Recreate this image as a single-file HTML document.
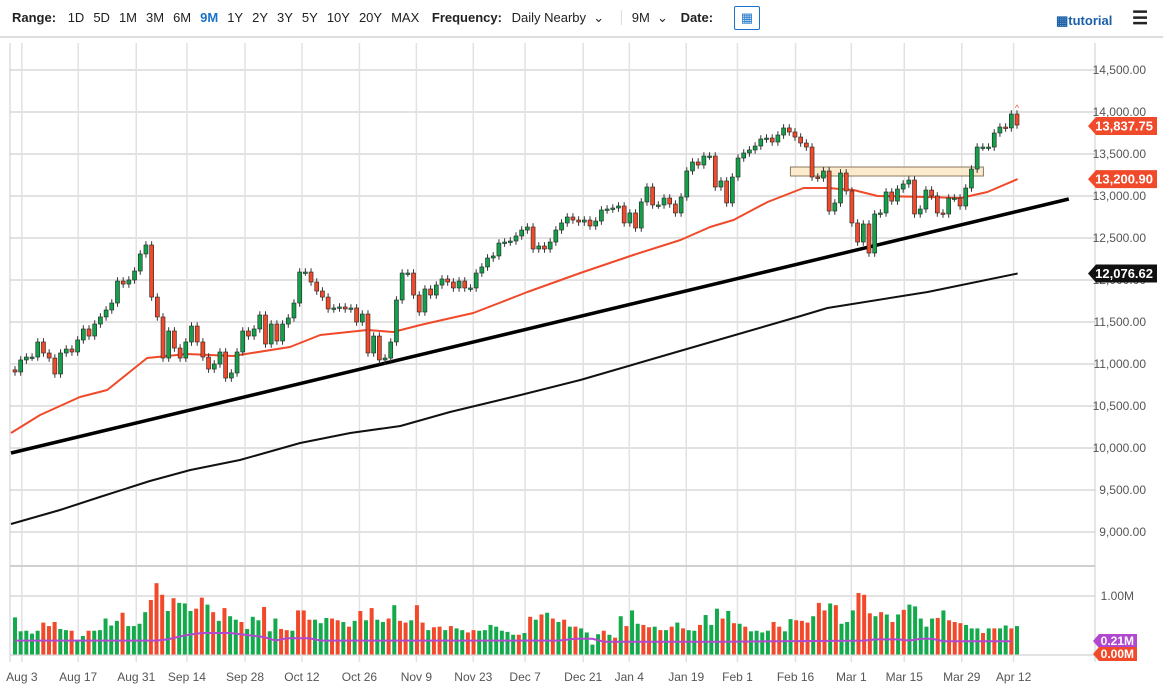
<!DOCTYPE html>
<html><head><meta charset="utf-8">
<style>
body{margin:0;background:#fff;font-family:"Liberation Sans",sans-serif;}
#wrap{position:relative;width:1163px;height:694px;overflow:hidden;background:#fff}
.tb{position:absolute;top:10px;font-size:13px;color:#222;white-space:nowrap}
.tb b{font-weight:bold}
.tb span{margin-right:9px}
</style></head>
<body>
<div id="wrap">
<div class="tb" style="left:12px">
<b>Range:</b>
<span style="margin-left:8px">1D</span><span>5D</span><span>1M</span><span>3M</span><span>6M</span><span style="color:#1a73c8;font-weight:bold">9M</span><span>1Y</span><span>2Y</span><span>3Y</span><span>5Y</span><span>10Y</span><span>20Y</span><span>MAX</span>
<b>Frequency:</b>
<span style="margin-left:6px">Daily Nearby &nbsp;⌄</span>
<span style="border-left:1px solid #ddd;padding-left:10px;margin-left:4px">9M &nbsp;⌄</span>
<b>Date:</b>
</div>
<div style="position:absolute;left:734px;top:6px;width:24px;height:22px;border:1px solid #1a73c8;border-radius:2px;font-size:13px;text-align:center;line-height:22px;color:#1a73c8">▦</div>
<div style="position:absolute;left:1056px;top:13px;font-size:13px;font-weight:bold;color:#1a5fa8">▦tutorial</div>
<div style="position:absolute;left:1132px;top:8px;font-size:18px;font-weight:bold;color:#222">☰</div>
<svg id="svg" width="1163" height="694" style="position:absolute;left:0;top:0"></svg>
</div>
<script>
const closes=[10905,11048,11083,11083,11262,11131,11071,10881,11131,11178,11143,11286,11417,11333,11476,11560,11643,11726,11988,11952,12000,12107,12310,12417,11797,11560,11071,11393,11190,11071,11262,11452,11262,11083,10940,11000,11143,10833,10893,11143,11393,11333,11417,11583,11238,11476,11274,11476,11548,11726,12095,12095,11976,11869,11797,11655,11667,11679,11655,11667,11500,11595,11131,11333,11048,11071,11262,11762,12083,12083,11821,
11619,11893,11821,11940,12012,11976,11905,11988,11905,11905,12083,12155,12262,12286,12440,12452,12464,12524,12595,12631,12369,12405,12369,12452,12595,12679,12750,12714,12690,12714,12643,12702,12833,12845,12857,12881,12679,12798,12619,12929,13107,12893,12893,12976,12905,12798,12988,13298,13405,13369,13476,13476,13107,13179,12917,13226,13452,13512,13548,13595,13679,13690,13643,13726,13810,13762,13702,
13631,13583,13226,13214,13298,12821,12917,13274,13060,12679,12452,12667,12321,12786,12798,13048,12940,13083,13143,13190,12786,12845,13071,13000,12798,12786,12976,12976,12881,13095,13321,13583,13583,13583,13750,13821,13810,13976,13845];
const firstOpen=10930;
const volumes=[.64,.40,.41,.36,.41,.55,.49,.56,.44,.42,.41,.23,.32,.41,.41,.42,.62,.50,.58,.72,.49,.49,.53,.73,.94,1.23,1.03,.75,.97,.89,.88,.75,.79,.98,.86,.73,.58,.80,.66,.60,.56,.44,.65,.59,.82,.40,.62,.44,.42,.41,.76,.76,.60,.60,.54,.63,.62,.59,.56,.48,.58,.75,.59,.80,.60,.56,.62,.85,.58,.55,.59,.85,.55,.42,.47,.48,.42,.49,.45,.42,.38,.42,.41,.42,.51,.48,.41,.39,.34,.34,.37,.65,.60,.69,.72,.62,.56,.60,.48,.48,.45,.38,.17,.35,.41,.34,.29,.66,.49,.76,.53,.51,.47,.48,.42,.42,.48,.55,.45,.42,.41,.51,.68,.51,.79,.62,.75,.54,.53,.48,.40,.41,.38,.41,.56,.48,.40,.61,.59,.58,.55,.66,.89,.76,.88,.85,.53,.56,.76,1.06,1.03,.71,.66,.73,.69,.56,.69,.77,.86,.83,.62,.48,.62,.63,.76,.59,.56,.54,.51,.45,.45,.37,.45,.45,.45,.50,.45,.49];
const volColors="gggggrrrggrggrgggggrggggrrrgrgggrrgrgrggrgggrggrrgrrrgggrrgrgrgrggrgrrgrrgrrgrggrrgggggggrgrgrgrgrgrggggrgrgrggrrgrgrgrggrgggrgrgrggggrrggrrrgrrgrgggrrrgrgrgrgggggrgrrrgggrgrggrg";
const ma50Idx=[-0.7,4.4,11.4,16.2,23.2,30.2,38.3,48.3,53.6,61.9,66.4,71.2,73.5,80.5,90,99.3,108.6,116.9,122.1,126.2,132.2,138.5,142.7,147.3,151.5,160.3,166.1,170.8,176.1];
const ma50Val=[10179,10393,10607,10690,11071,11119,11095,11202,11345,11405,11381,11464,11500,11607,11857,12083,12298,12476,12631,12714,12929,13095,13095,13071,13000,12988,12976,13048,13201];
const ma200Idx=[-0.7,7.9,14.9,23.7,30.8,39.5,50.1,58.9,67.7,76.4,88.8,99.3,117.4,138,142.7,160.3,176.1];
const ma200Val=[9095,9262,9417,9607,9738,9857,10060,10179,10262,10429,10631,10810,11167,11571,11667,11857,12077];
const trendIdx=[-0.7,185.1];
const trendVal=[9940,12964];
const volMaIdx=[0,25,27,30,33,38,44,46,48,52,54,96,99,102,104,125,150,152,156,158,160,162,164,176];
const volMaVal=[.24,.24,.26,.33,.37,.37,.30,.24,.28,.28,.24,.24,.27,.27,.22,.22,.24,.26,.26,.24,.27,.27,.23,.23];
const dateLabels=["Aug 3","Aug 17","Aug 31","Sep 14","Sep 28","Oct 12","Oct 26","Nov 9","Nov 23","Dec 7","Dec 21","Jan 4","Jan 19","Feb 1","Feb 16","Mar 1","Mar 15","Mar 29","Apr 12"];
const dateIdx=[1.2,11.1,21.3,30.2,40.4,50.4,60.5,70.5,80.5,89.6,99.8,107.9,117.9,126.9,137.1,146.9,156.2,166.3,175.4];
const priceTicks=[14500,14000,13500,13000,12500,12000,11500,11000,10500,10000,9500,9000];
const boxTop=13345, boxBottom=13238, boxStartIdx=136.2, boxEndIdx=170.1;

const NS="http://www.w3.org/2000/svg";
const svg=document.getElementById('svg');
const N=closes.length;
const step=1002/(N-1);
const X=i=>15+i*step;
const Y=p=>70+(14500-p)*0.084;
const VY=v=>654.5-v*58;
function mk(tag,attrs,parent){const e=document.createElementNS(NS,tag);for(const k in attrs)e.setAttribute(k,attrs[k]);(parent||svg).appendChild(e);return e;}
const gridG=mk('g',{});


priceTicks.forEach(p=>{const l=mk('line',{x1:10,x2:1095,y1:Y(p),y2:Y(p),stroke:'#e2e2e2','stroke-width':2},gridG);

});
dateIdx.forEach(d=>{const l=mk('line',{x1:X(d),x2:X(d),y1:43,y2:662,stroke:'#e2e2e2','stroke-width':1.5},gridG);

});
[[596,'#e2e2e2'],[655,'#e2e2e2'],[566,'#d0d0d0']].forEach(([y,c])=>{const l=mk('line',{x1:10,x2:1095,y1:y,y2:y,stroke:c,'stroke-width':2},gridG);

});
const fr=mk('line',{x1:10,x2:10,y1:43,y2:662,stroke:'#ccc'});


const fr2=mk('line',{x1:1095,x2:1095,y1:43,y2:662,stroke:'#ccc'});


const topDivider=mk('line',{x1:0,x2:1163,y1:37,y2:37,stroke:'#ddd','stroke-width':2});


priceTicks.forEach(p=>{const t=mk('text',{x:1146,y:Y(p)+4,'text-anchor':'end','font-size':12,fill:'#555','font-family':'Liberation Sans, sans-serif'});t.textContent=p.toLocaleString('en-US',{minimumFractionDigits:2});

});
const vl=mk('text',{x:1134,y:600,'text-anchor':'end','font-size':12,fill:'#555','font-family':'Liberation Sans, sans-serif'});vl.textContent='1.00M';


dateLabels.forEach((d,i)=>{const t=mk('text',{x:X(dateIdx[i]),y:681,'text-anchor':'middle','font-size':12,fill:'#555','font-family':'Liberation Sans, sans-serif'});t.textContent=d;

});
const bx=mk('rect',{x:X(boxStartIdx),y:Y(boxTop),width:X(boxEndIdx)-X(boxStartIdx),height:Y(boxBottom)-Y(boxTop),fill:'#fde8c4','fill-opacity':0.85,stroke:'#8a7a60','stroke-width':1});


function poly(idx,val,color,w,name){const pts=idx.map((d,i)=>X(d).toFixed(1)+','+Y(val[i]).toFixed(1)).join(' ');const p=mk('polyline',{points:pts,fill:'none',stroke:color,'stroke-width':w,'stroke-linejoin':'round'});

}
poly(ma200Idx,ma200Val,'#111',2,'ma-200-line');
poly(trendIdx,trendVal,'#000',3.5,'uptrend-line');
poly(ma50Idx,ma50Val,'#f04a2a',2,'ma-50-line');
const cg=mk('g',{});


for(let i=0;i<N;i++){
 const o=i?closes[i-1]:firstOpen,c=closes[i];
 const hi=Math.max(o,c)+45,lo=Math.min(o,c)-45;
 const x=X(i);
 const w=mk('line',{x1:x,x2:x,y1:Y(hi),y2:Y(lo),stroke:'#333','stroke-width':1},cg);
 
 
 const up=c>=o;const yt=Y(Math.max(o,c)),yb=Y(Math.min(o,c));
 const b=mk('rect',{x:x-2,y:yt,width:4,height:Math.max(1.5,yb-yt),fill:up?'#14a04b':'#f04a2a',stroke:'#222','stroke-width':0.6},cg);
 
 
}
const mark=mk('text',{x:X(N-1),y:Y(14000)-1,'text-anchor':'middle','font-size':9,fill:'#f04a2a'});mark.textContent='^';


const vg=mk('g',{});


const vstep=1002/(volumes.length-1);
volumes.forEach((v,i)=>{const x=15+i*vstep;const r=mk('rect',{x:x-2,y:VY(v),width:4,height:654.5-VY(v),fill:volColors[i]==='r'?'#f2492b':'#13aa4c'},vg);

});
const vpts=volMaIdx.map((d,i)=>(15+d*vstep).toFixed(1)+','+VY(volMaVal[i]).toFixed(1)).join(' ');
const vm=mk('polyline',{points:vpts,fill:'none',stroke:'#b048d0','stroke-width':2});


function tag(y,txt,color,name,fs){const gg=mk('g',{});


mk('path',{d:`M1088 ${y} L1096 ${y-9} L1157 ${y-9} L1157 ${y+9} L1096 ${y+9} Z`,fill:color},gg);
const t=mk('text',{x:1153,y:y+4.5,'text-anchor':'end','font-size':fs||13,'font-weight':'bold',fill:'#fff','font-family':'Liberation Sans, sans-serif'},gg);t.textContent=txt;}
tag(Y(closes[N-1])+1,'13,837.75','#f04a2a','last-price-tag');
tag(Y(ma50Val[ma50Val.length-1]),'13,200.90','#f04a2a','ma-50-tag');
tag(Y(ma200Val[ma200Val.length-1]),'12,076.62','#111','ma-200-tag');
function vtag(y,txt,color,name){const gg=mk('g',{});


mk('path',{d:`M1093 ${y} L1099 ${y-7} L1137 ${y-7} L1137 ${y+7} L1099 ${y+7} Z`,fill:color},gg);
const t=mk('text',{x:1134,y:y+4,'text-anchor':'end','font-size':12,'font-weight':'bold',fill:'#fff','font-family':'Liberation Sans, sans-serif'},gg);t.textContent=txt;}
vtag(641,'0.21M','#b048d0','volume-ma-tag');
vtag(654,'0.00M','#f04a2a','volume-last-tag');
</script>
</body></html>
